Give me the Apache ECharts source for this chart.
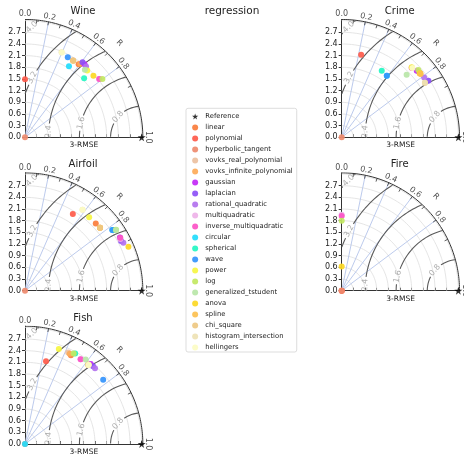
<!DOCTYPE html>
<html>
<head>
<meta charset="utf-8">
<script src="https://cdn.jsdelivr.net/npm/echarts@6/dist/echarts.min.js"></script>
<style>
  html, body { margin: 0; padding: 0; background: #fff; }
  #main { width: 464px; height: 457px; }
</style>
</head>
<body>
<div id="main"></div>
<script>
// kernels (legend order)
var models = ['linear', 'polynomial', 'hyperbolic_tangent', 'vovks_real_polynomial', 'vovks_infinite_polynomial',
  'gaussian', 'laplacian', 'rational_quadratic', 'multiquadratic', 'inverse_multiquadratic',
  'circular', 'spherical', 'wave', 'power', 'log', 'generalized_tstudent',
  'anova', 'spline', 'chi_square', 'histogram_intersection', 'hellingers'];
var colors = ['#fa7d3c', '#fe5a4a', '#ee8a6e', '#ecc0a0', '#fdaa58',
  '#c228f6', '#8c50f6', '#b272ee', '#eeb2e8', '#fc52c6',
  '#22dcfc', '#24f6c2', '#3494fc', '#f6f642', '#c2e862', '#b8e6a8',
  '#fcd824', '#fcc050', '#eec882', '#eee2b4', '#fcfcc4'];

var datasets = ['Wine', 'Crime', 'Airfoil', 'Fire', 'Fish'];

// points: [std*R, std*sqrt(1-R^2)], same order as models
var wineXY = [[1.38, 1.88], [0, 1.49], [0, 0], [1.23, 1.98], [1.42, 1.89],
  [1.53, 1.88], [1.48, 1.93], [1.57, 1.82], [1.91, 1.50], [1.91, 1.50],
  [1.13, 1.83], [1.52, 1.52], [1.10, 2.06], [1.60, 1.72], [1.99, 1.50], [1.54, 1.74],
  [1.76, 1.58], [1.24, 1.97], [1.24, 1.97], [0.94, 2.19], [0.95, 2.18]];
var crimeXY = [[2.00, 1.66], [0.50, 2.12], [0, 0], [2.01, 1.65], [2.02, 1.64],
  [1.93, 1.71], [2.23, 1.455], [2.12, 1.54], [1.80, 1.79], [1.80, 1.79],
  [1.16, 1.58], [1.03, 1.71], [1.16, 1.58], [1.80, 1.80], [1.97, 1.73], [1.67, 1.61],
  [2.01, 1.645], [2.03, 1.63], [2.14, 1.40], [2.14, 1.40], [1.82, 1.78]];
var airfoilXY = [[1.82, 1.73], [1.23, 1.97], [0, 0], [1.93, 1.62], [1.93, 1.62],
  [2.44, 1.37], [2.47, 1.28], [2.53, 1.235], [2.45, 1.33], [2.45, 1.36],
  [2.25, 1.56], [2.30, 1.56], [2.245, 1.563], [1.65, 1.89], [2.34, 1.565], [2.34, 1.56],
  [2.66, 1.13], [1.93, 1.62], [1.93, 1.62], [1.48, 2.08], [1.48, 2.08]];
var fireXY = [[0, 0], [0, 0], [0, 0], null, null,
  null, null, null, [0, 1.95], [0, 1.92],
  null, null, null, null, [0, 1.80], null,
  [0, 0.62], null, null, null, null];
var fishXY = [[1.18, 2.28], [0.54, 2.13], [0, 0], [1.11, 2.35], [1.15, 2.32],
  [1.69, 2.06], [1.75, 2.00], [1.80, 1.95], [1.43, 2.18], [1.43, 2.18],
  [0, 0], [1.29, 2.33], [2.01, 1.65], [0.87, 2.44], [1.25, 2.33], [1.56, 2.17],
  [1.63, 2.04], [1.63, 2.04], [1.63, 2.04], [1.63, 2.04], [1.64, 2.03]];
var panelXY = [wineXY, crimeXY, airfoilXY, fireXY, fishXY];

var refStd = 3.0;
var stdMax = 3.03;
var stdTicks = [0, 0.3, 0.6, 0.9, 1.2, 1.5, 1.8, 2.1, 2.4, 2.7];
var stdArcs = [0.3, 0.6, 0.9, 1.2, 1.5, 1.8, 2.1, 2.4, 2.7, 3.0];
var corrLabels = [0.0, 0.2, 0.4, 0.6, 0.8, 1.0];
var corrLines = [0.2, 0.4, 0.6, 0.8];
var corrTicks = [0.1, 0.2, 0.3, 0.4, 0.5, 0.6, 0.7, 0.8, 0.9];
var rmseLevels = [0.8, 1.6, 2.4, 3.2, 4.0];
var rmseLabelAngle = [139, 166.8, 176.6, 151.4, 134.9]; // where the inline labels sit

// layout
var unit = 38.89;
var size = stdMax * unit;
var origins = [[25, 137.3], [341.7, 137.3], [25, 290.7], [341.7, 290.7], [25, 444]];
var FONT = 'DejaVu Sans';
var starPath = 'path://M0,-10 L2.245,-3.09 L9.51,-3.09 L3.633,1.18 L5.88,8.09 L0,3.82 L-5.88,8.09 L-3.633,1.18 L-9.51,-3.09 L-2.245,-3.09 Z';

function rad(d) { return d * Math.PI / 180; }

function lineSeries(i, pts, color, width, z) {
  return {
    type: 'line', xAxisIndex: i, yAxisIndex: i, data: pts,
    showSymbol: false, symbol: 'none', silent: true, animation: false,
    lineStyle: { color: color, width: width }, z: z || 1
  };
}

function arc(r) {
  var pts = [];
  for (var a = 0; a <= 90.001; a += 1) pts.push([r * Math.cos(rad(a)), r * Math.sin(rad(a))]);
  return pts;
}

function contourPieces(L, phiLab) {
  var gap = 11.5 / L, pieces = [], cur = [];
  for (var p = 0; p <= 180.001; p += 0.5) {
    var x = refStd + L * Math.cos(rad(p)), y = Math.max(0, L * Math.sin(rad(p)));
    var ok = x >= 0 && x * x + y * y <= stdMax * stdMax && Math.abs(p - phiLab) > gap;
    if (ok) cur.push([x, y]);
    else { if (cur.length > 1) pieces.push(cur); cur = []; }
  }
  if (cur.length > 1) pieces.push(cur);
  return pieces;
}

var grids = [], xAxes = [], yAxes = [], series = [], titles = [];

titles.push({
  text: 'regression', left: 232, top: 5.5, textAlign: 'center', padding: 0,
  textStyle: { fontSize: 10.5, fontWeight: 'normal', color: '#222', fontFamily: FONT }
});

datasets.forEach(function (name, i) {
  var ox = origins[i][0], oy = origins[i][1];
  grids.push({ left: ox, top: oy - size, width: size, height: size, outerBoundsMode: 'none', containLabel: false });
  titles.push({
    text: name, left: ox + 58, top: oy - 131, textAlign: 'center', padding: 0,
    textStyle: { fontSize: 10, fontWeight: 'normal', color: '#222', fontFamily: FONT }
  });
  xAxes.push({
    gridIndex: i, type: 'value', min: 0, max: stdMax,
    axisLine: { lineStyle: { color: '#333', width: 1 } },
    axisTick: { inside: true, length: 3, customValues: stdArcs, lineStyle: { color: '#333' } },
    axisLabel: { show: false },
    splitLine: { show: false },
    name: '3-RMSE', nameLocation: 'middle', nameGap: 4,
    nameTextStyle: { fontSize: 7.5, color: '#222', fontFamily: FONT }
  });
  yAxes.push({
    gridIndex: i, type: 'value', min: 0, max: stdMax,
    axisLine: { lineStyle: { color: '#333', width: 1 } },
    axisTick: { length: 3, customValues: stdTicks, lineStyle: { color: '#333' } },
    axisLabel: {
      customValues: stdTicks, fontSize: 8, margin: 4, color: '#222', fontFamily: FONT,
      formatter: function (v) { return v.toFixed(1); }
    },
    splitLine: { show: false }
  });

  // std-dev grid arcs
  stdArcs.forEach(function (r) { series.push(lineSeries(i, arc(r), '#dedede', 0.8, 1)); });
  // correlation rays
  corrLines.forEach(function (c) {
    var t = Math.acos(c);
    series.push(lineSeries(i, [[0, 0], [stdMax * Math.cos(t), stdMax * Math.sin(t)]], '#b4c4ea', 0.9, 2));
  });
  // RMSE contours around the reference
  rmseLevels.forEach(function (L, k) {
    contourPieces(L, rmseLabelAngle[k]).forEach(function (pc) {
      series.push(lineSeries(i, pc, '#5a5a5a', 1.1, 3));
    });
  });
  // outer frame + correlation ticks
  series.push(lineSeries(i, arc(stdMax), '#333', 1, 4));
  corrTicks.forEach(function (c) {
    var t = Math.acos(c);
    series.push(lineSeries(i, [[stdMax * Math.cos(t), stdMax * Math.sin(t)],
      [(stdMax - 0.09) * Math.cos(t), (stdMax - 0.09) * Math.sin(t)]], '#333', 0.8, 4));
  });

  // text labels: correlation values, "R", RMSE levels
  var lab = [];
  corrLabels.forEach(function (c) {
    var t = Math.acos(c), r = 3.16;
    lab.push({ value: [r * Math.cos(t), r * Math.sin(t)], label: { formatter: c.toFixed(1), rotate: t * 180 / Math.PI - 90, color: '#222' } });
  });
  lab.push({ value: [3.43 * Math.cos(rad(45)), 3.43 * Math.sin(rad(45))], label: { formatter: 'R', rotate: -45, color: '#222' } });
  rmseLevels.forEach(function (L, k) {
    var p = rmseLabelAngle[k];
    lab.push({ value: [refStd + L * Math.cos(rad(p)), L * Math.sin(rad(p))], label: { formatter: L.toFixed(1), rotate: p - 90, color: '#9a9a9a' } });
  });
  series.push({
    type: 'scatter', xAxisIndex: i, yAxisIndex: i, data: lab, symbolSize: 1, clip: false,
    silent: true, animation: false, itemStyle: { color: 'rgba(0,0,0,0)' }, z: 6,
    label: { show: true, position: 'inside', fontSize: 8, fontFamily: FONT }
  });

  // reference
  series.push({
    type: 'scatter', name: 'Reference', xAxisIndex: i, yAxisIndex: i, data: [[refStd, 0]],
    symbol: starPath, symbolSize: 8, clip: false, animation: false, itemStyle: { color: '#000' }, z: 8
  });
  // models
  models.forEach(function (m, k) {
    var p = panelXY[i][k];
    series.push({
      type: 'scatter', name: m, xAxisIndex: i, yAxisIndex: i, data: p ? [p] : [],
      symbolSize: 6, clip: false, animation: false,
      itemStyle: { color: colors[k], opacity: 0.92 }, z: 7
    });
  });
});

var legendData = [{ name: 'Reference', icon: starPath }].concat(models.map(function (m) {
  return { name: m, icon: 'circle' };
}));

var chart = echarts.init(document.getElementById('main'), null, { renderer: 'canvas' });
chart.setOption({
  backgroundColor: '#fff',
  animation: false,
  title: titles,
  grid: grids,
  xAxis: xAxes,
  yAxis: yAxes,
  legend: {
    data: legendData, orient: 'vertical', left: 186, top: 108.3,
    padding: [4.7, 4, 1, 6], itemWidth: 10.3, itemHeight: 6, itemGap: 4,
    selectedMode: false, backgroundColor: '#fff',
    borderColor: '#d4d4d4', borderWidth: 0.8, borderRadius: 2,
    textStyle: { fontSize: 6.8, lineHeight: 6, color: '#222', fontFamily: FONT }
  },
  series: series
});
</script>
</body>
</html>
